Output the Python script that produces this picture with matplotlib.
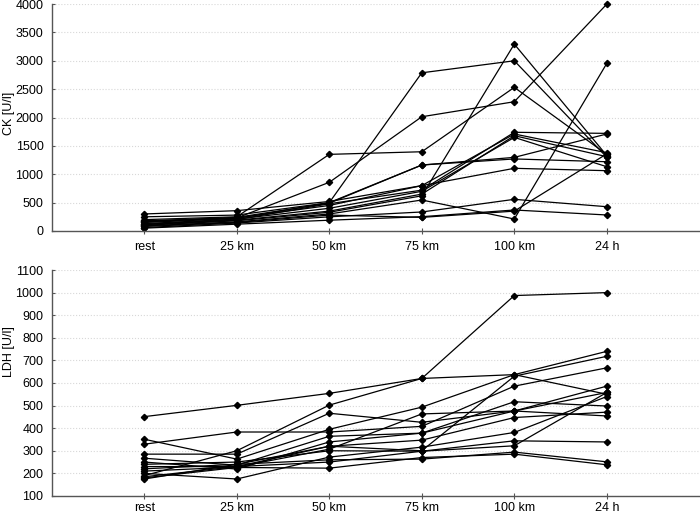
import matplotlib
matplotlib.use("Agg")
import matplotlib.pyplot as plt

categories = ["rest", "25 km", "50 km", "75 km", "100 km", "24 h"]

ck_series = [
    [200, 250, 1351, 1397, 2532, 1350],
    [180, 230, 858, 2014, 2279, 4000],
    [150, 220, 500, 2789, 3001, 1300],
    [100, 180, 330, 620, 3295, 1330],
    [90, 160, 300, 546, 211, 2955],
    [60, 140, 250, 335, 558, 428],
    [50, 120, 190, 252, 370, 282],
    [80, 150, 280, 240, 350, 1360],
    [120, 200, 480, 720, 1740, 1721],
    [300, 358, 520, 800, 1710, 1380],
    [110, 190, 350, 650, 1680, 1310],
    [130, 210, 400, 700, 1650, 1133],
    [250, 280, 500, 1163, 1298, 1710],
    [170, 240, 490, 1163, 1270, 1221],
    [160, 230, 450, 800, 1105, 1063],
]

ldh_series = [
    [451, 501, 554, 620, 637, 550],
    [190, 300, 502, 620, 987, 1000],
    [351, 263, 395, 493, 637, 740],
    [175, 240, 320, 300, 630, 718],
    [329, 383, 383, 408, 586, 667],
    [285, 285, 466, 426, 476, 586],
    [267, 236, 364, 378, 517, 498],
    [250, 219, 339, 378, 476, 558],
    [230, 230, 320, 347, 447, 471],
    [210, 228, 307, 463, 476, 454],
    [200, 175, 272, 316, 381, 540],
    [185, 230, 250, 298, 344, 339],
    [220, 240, 260, 263, 294, 251],
    [180, 226, 223, 270, 285, 238],
    [240, 250, 300, 298, 322, 558],
]

ck_ticks = list(range(0, 4001, 500))
ldh_ticks = list(range(100, 1101, 100))

plt.rcParams['font.family'] = ['Liberation Sans', 'DejaVu Sans']

fig = plt.figure(figsize=(7.0, 5.15), dpi=100)
ax1 = fig.add_axes([0.074, 0.5515, 0.925, 0.4405])
ax2 = fig.add_axes([0.074, 0.037, 0.925, 0.4387])

xpos = list(range(1, len(categories) + 1))

def style(ax, series, ticks, ylabel, xpad, label_y):
    for s in series:
        ax.plot(xpos, s, color='black', lw=0.9, marker='D', markersize=3.2,
                markerfacecolor='black', markeredgecolor='black', clip_on=False)
    ax.set_xlim(0, 7)
    ax.set_ylim(ticks[0], ticks[-1])
    ax.set_yticks(ticks)
    ax.set_xticks(xpos)
    ax.set_xticklabels(categories)
    ax.grid(axis='y', color='#d8d8d8', linestyle=':', lw=0.8)
    ax.set_axisbelow(True)
    for sp in ['top', 'right']:
        ax.spines[sp].set_visible(False)
    for sp in ['left', 'bottom']:
        ax.spines[sp].set_color('#555555')
        ax.spines[sp].set_linewidth(1.0)
    ax.tick_params(axis='x', direction='inout', length=4, color='#555555', labelsize=9, pad=xpad)
    ax.tick_params(axis='y', direction='in', length=2, color='#555555', labelsize=9, pad=6)
    ax.set_ylabel(ylabel, fontsize=9)
    ax.yaxis.set_label_coords(-0.057, label_y)

style(ax1, ck_series, ck_ticks, 'CK [U/l]', 5, 0.52)
style(ax2, ldh_series, ldh_ticks, 'LDH [U/l]', 2, 0.64)

fig.savefig('out.png', dpi=100)
